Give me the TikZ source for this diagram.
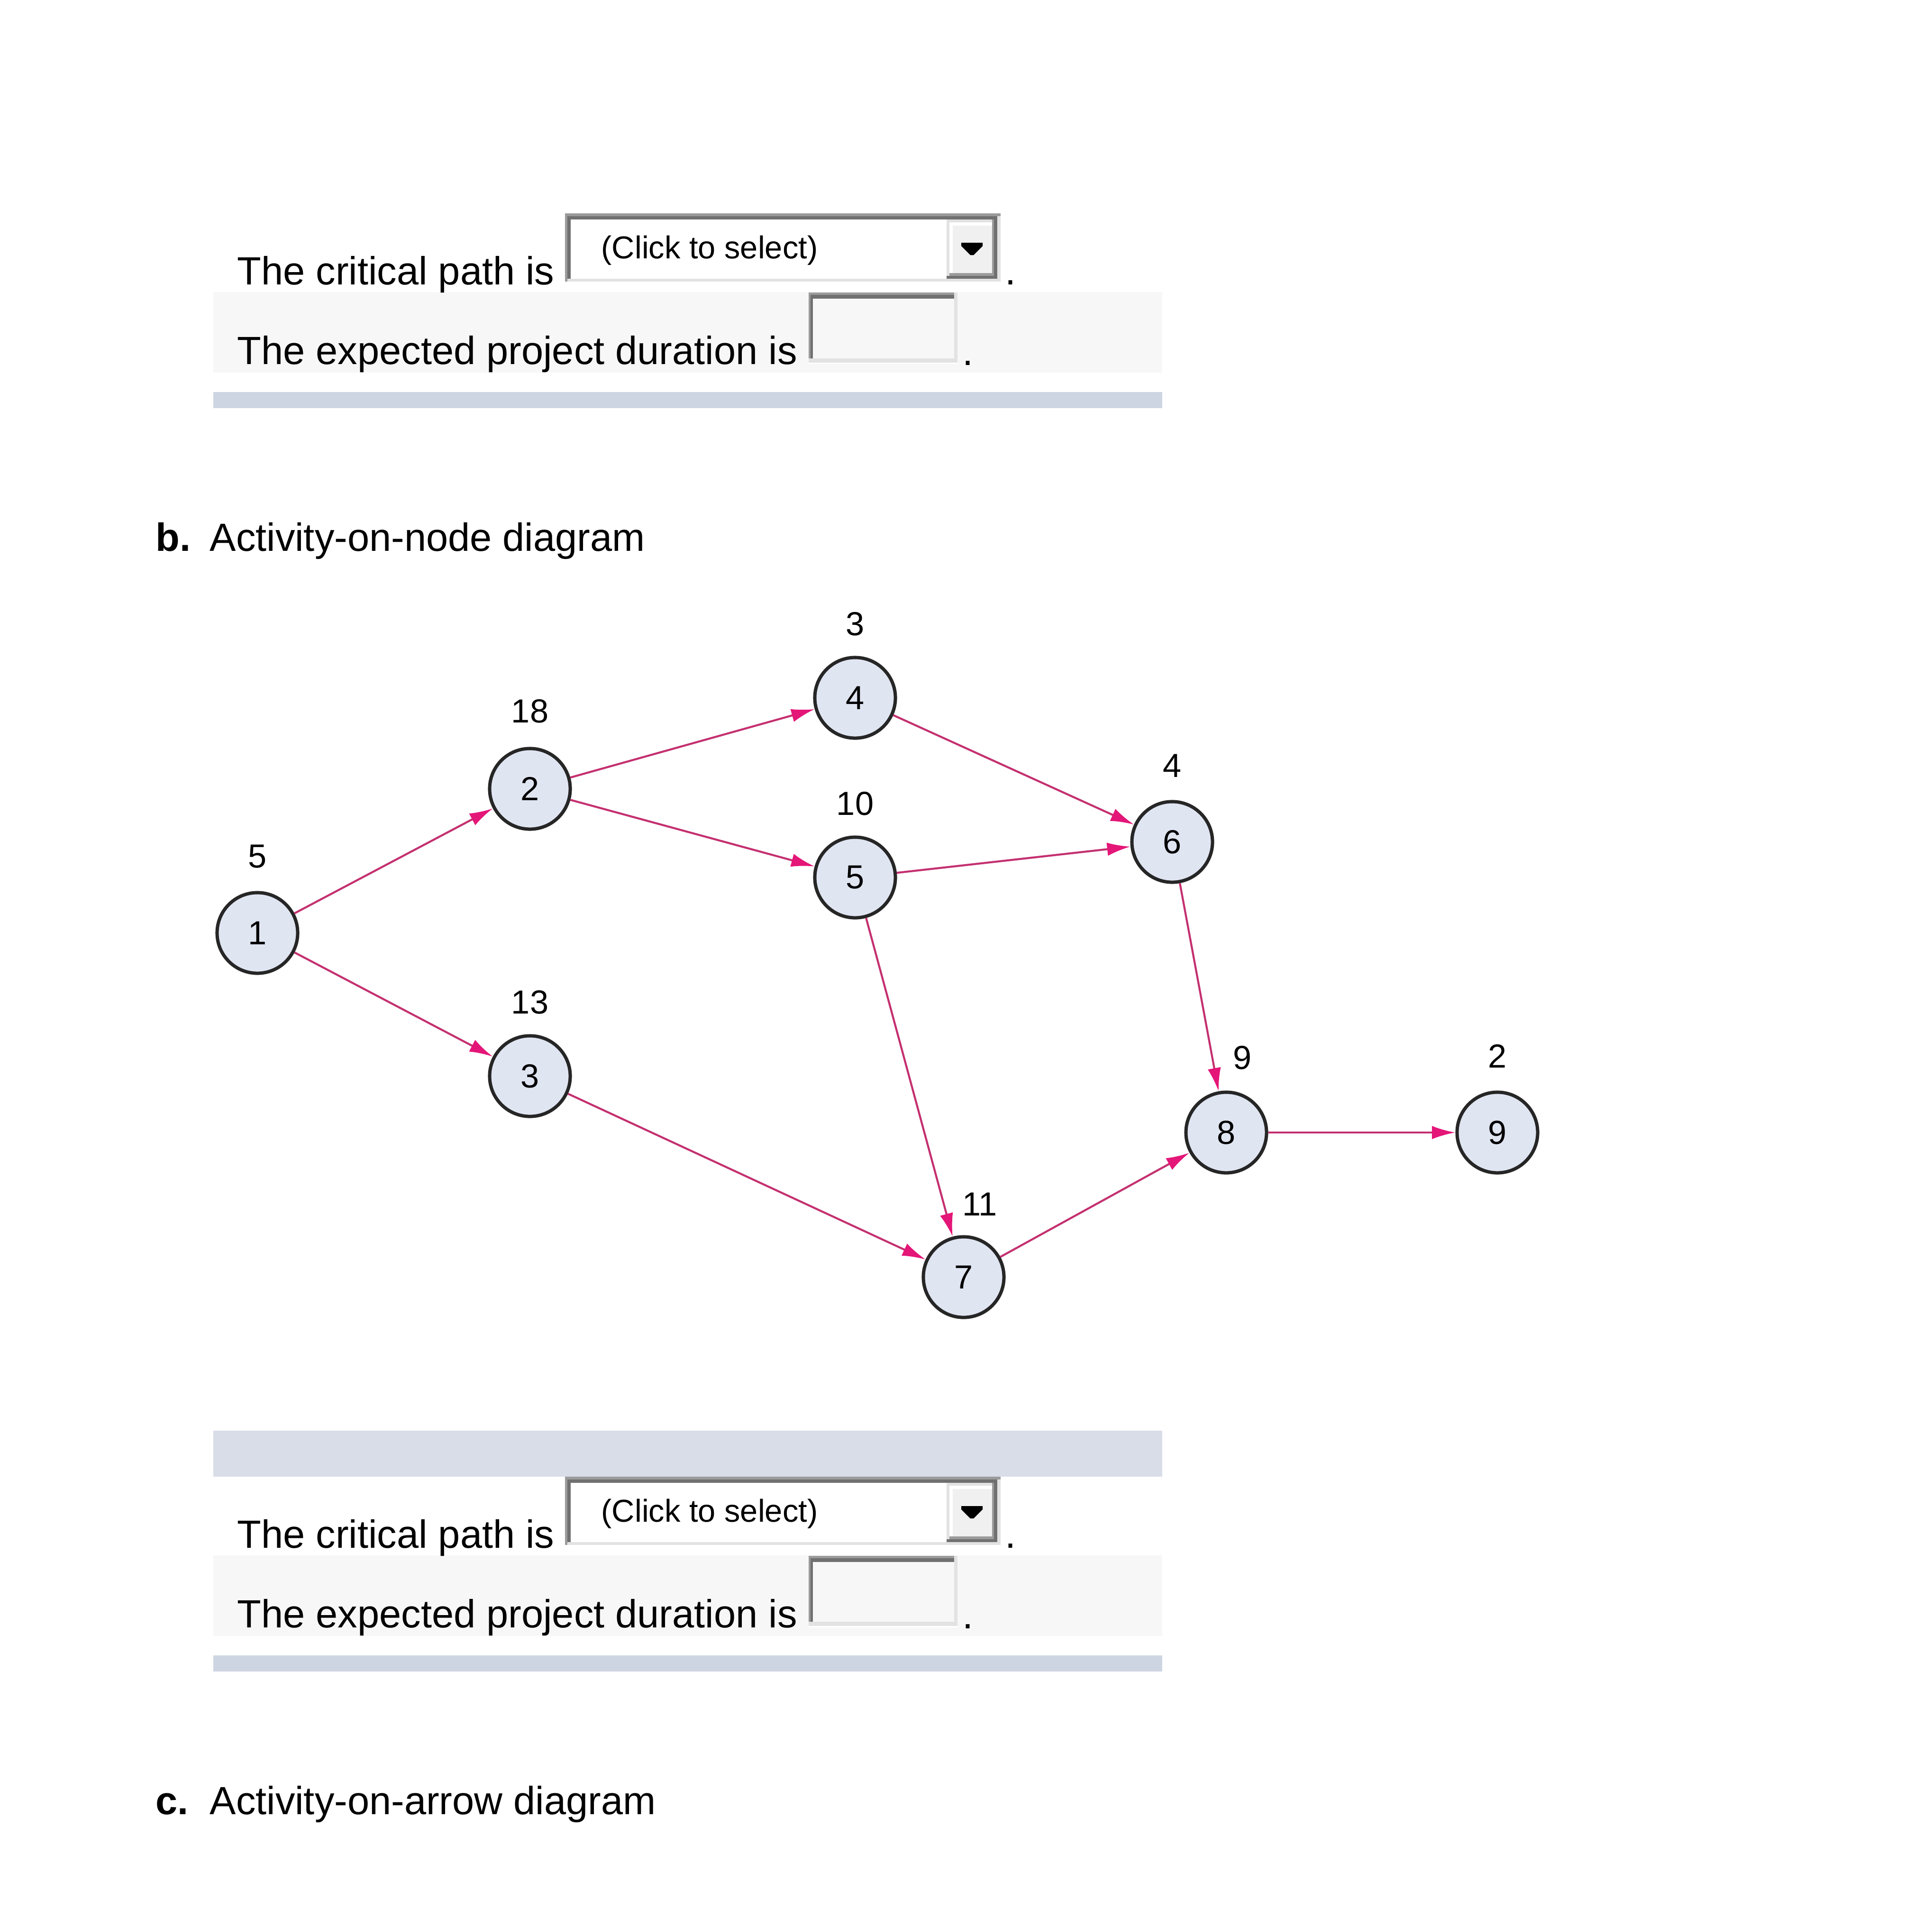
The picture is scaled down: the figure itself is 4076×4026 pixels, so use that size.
\documentclass[tikz,border=0pt]{standalone}
\usepackage{fontspec}
\setmainfont{Liberation Sans}
\usetikzlibrary{arrows.meta}
\definecolor{edgec}{RGB}{196,48,112}
\definecolor{tipc}{RGB}{228,22,120}
\definecolor{nodefill}{RGB}{224,229,242}
\definecolor{barA}{RGB}{206,213,226}
\definecolor{barB}{RGB}{216,221,232}
\definecolor{rowbg}{RGB}{247,247,247}
\definecolor{bdark}{RGB}{112,112,112}
\definecolor{bmid}{RGB}{155,155,155}
\definecolor{blight}{RGB}{226,226,226}
\definecolor{btn}{RGB}{240,240,240}
\newcommand\formblock[2]{%
\begin{scope}[shift={(0,#1)}]
 \fill[rowbg] (450,616) rectangle (2452,786);
 \fill[barA] (450,827) rectangle (2452,861);
 \node[txt] (crit#2) at (500,600) {The critical path is};
 % dropdown
 \fill[white] (1192,450) rectangle (2111,594);
 \fill[blight] (1192,588) rectangle (2111,594);
 \fill[blight] (2104,450) rectangle (2111,594);
 \fill[bmid] (1192,450) rectangle (2111,456);
 \fill[bdark] (1192,456) rectangle (2104,463);
 \fill[bmid] (1192,450) rectangle (1197,594);
 \fill[bdark] (1197,456) rectangle (1204,588);
 \fill[bdark] (2097,456) rectangle (2104,588);
 % button
 \fill[blight] (1997,463) rectangle (2097,588);
 \fill[white] (2003,469) rectangle (2093,576);
 \fill[btn] (2010,476) rectangle (2093,576);
 \fill[bmid] (2003,576) rectangle (2097,582);
 \fill[bmid] (2093,463) rectangle (2097,582);
 \fill[bdark] (1997,582) rectangle (2097,588);
 \fill[black] (2028,512) -- (2073,512) -- (2073,519) -- (2054,538) -- (2047,538) -- (2028,519) -- cycle;
 \node[seltxt] (sel#2) at (1268,545) {(Click to select)};
 \node[txt] (dot#2) at (2120,600) {.};
 \node[txt] (dur#2) at (500,768) {The expected project duration is};
 % input box
 \fill[bmid] (1706,617) rectangle (2020,622);
 \fill[bdark] (1706,622) rectangle (2016,630);
 \fill[bmid] (1706,617) rectangle (1710,767);
 \fill[bdark] (1710,622) rectangle (1715,760);
 \fill[blight] (2013,617) rectangle (2020,767);
 \fill[blight] (1706,756) rectangle (2020,765);
 \fill[white] (1706,765) rectangle (2020,768);
 \node[txt] (dotb#2) at (2030,770) {.};
\end{scope}}
\begin{document}
\begin{tikzpicture}[x=0.01cm,y=-0.01cm,
  txt/.style={anchor=base west, inner sep=0, font=\fontsize{23.6}{28}\selectfont},
  seltxt/.style={anchor=base west, inner sep=0, font=\fontsize{19}{23}\selectfont},
  act/.style={circle, draw=black!85, line width=2pt, fill=nodefill, minimum size=1.70cm, inner sep=0, font=\fontsize{20}{24}\selectfont},
  dur/.style={inner sep=0, font=\fontsize{20}{24}\selectfont},
  edge/.style={draw=edgec, line width=1.2pt, -{Latex[length=14pt,width=8pt,color=tipc]}}
]
\useasboundingbox (0,0) rectangle (4076,4026);
\fill[white] (0,0) rectangle (4076,4026);

\formblock{0}{a}
\fill[barB] (450,3018) rectangle (2452,3115);
\formblock{2665}{b}

\node[txt] (blab) at (328,1162) {\textbf{b.}};
\node[txt] (btitle) at (442,1162) {Activity-on-node diagram};
\node[txt] (clab) at (328,3827) {\textbf{c.}};
\node[txt] (ctitle) at (442,3827) {Activity-on-arrow diagram};

% nodes
\node[act] (n1) at (543,1968) {1};
\node[act] (n2) at (1118,1664) {2};
\node[act] (n3) at (1118,2270) {3};
\node[act] (n4) at (1804,1472) {4};
\node[act] (n5) at (1804,1851) {5};
\node[act] (n6) at (2473,1776) {6};
\node[act] (n7) at (2033,2694) {7};
\node[act] (n8) at (2587,2389) {8};
\node[act] (n9) at (3159,2389) {9};

% durations
\node[dur] (d1) at (543,1807) {5};
\node[dur] (d2) at (1118,1500) {18};
\node[dur] (d3) at (1118,2114) {13};
\node[dur] (d4) at (1804,1316) {3};
\node[dur] (d5) at (1804,1695) {10};
\node[dur] (d6) at (2473,1615) {4};
\node[dur] (d7) at (2067,2540) {11};
\node[dur] (d8) at (2621,2231) {9};
\node[dur] (d9) at (3159,2228) {2};

% edges
\draw[edge] (n1) -- (n2);
\draw[edge] (n1) -- (n3);
\draw[edge] (n2) -- (n4);
\draw[edge] (n2) -- (n5);
\draw[edge] (n4) -- (n6);
\draw[edge] (n5) -- (n6);
\draw[edge] (n5) -- (n7);
\draw[edge] (n3) -- (n7);
\draw[edge] (n6) -- (n8);
\draw[edge] (n7) -- (n8);
\draw[edge] (n8) -- (n9);
\end{tikzpicture}
\end{document}
